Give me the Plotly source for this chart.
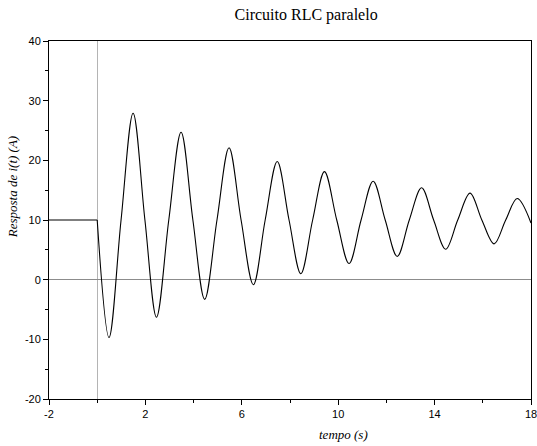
import plotly.graph_objects as go

# Data
t_before = [-2, 0]
i_before = [10, 10]

t_after = [0, 0.49, 0.99, 1.49, 1.98, 2.46, 2.97, 3.48, 3.97, 4.46, 4.97, 5.47,
           5.97, 6.48, 6.97, 7.47, 7.96, 8.45, 8.94, 9.43, 9.94, 10.45, 10.95,
           11.45, 11.95, 12.45, 12.95, 13.46, 13.96, 14.46, 14.96, 15.47, 15.96,
           16.47, 16.95, 17.43, 18]
i_after = [10, -9.7, 10, 27.9, 10, -6.3, 10, 24.7, 10, -3.3, 10, 22.1,
           10, -0.85, 10, 19.8, 10, 1.0, 10, 18.1, 10, 2.7, 10,
           16.5, 10, 3.9, 10, 15.4, 10, 5.1, 10, 14.5, 10,
           6.0, 10, 13.6, 9.5]

x_ticks = [-2, 2, 6, 10, 14, 18]
y_ticks = [-20, -10, 0, 10, 20, 30, 40]

fig = go.Figure()
fig.add_trace(go.Scatter(x=t_before, y=i_before, mode="lines",
                         line=dict(color="black", width=1.1), showlegend=False))
fig.add_trace(go.Scatter(x=t_after, y=i_after, mode="lines",
                         line=dict(color="black", width=1.1, shape="spline", smoothing=1.0),
                         showlegend=False))

tickfont = dict(family="Liberation Sans, Arial", size=11, color="black")
fig.update_layout(
    width=537, height=446,
    margin=dict(l=49, r=0, t=41, b=47),
    paper_bgcolor="white", plot_bgcolor="white",
    title=dict(text="Circuito RLC paralelo", x=0.57, xanchor="center",
               y=0.968, yanchor="middle",
               font=dict(family="Liberation Serif, Times New Roman", size=16, color="black")),
    xaxis=dict(range=[-2, 18], tickvals=x_ticks, ticktext=[str(v) for v in x_ticks],
               showgrid=False, zeroline=True, zerolinecolor="#b4b4b4", zerolinewidth=1,
               showline=True, linecolor="black", linewidth=1, mirror=True,
               ticks="outside", ticklen=5, tickcolor="black", tickfont=tickfont,
               ticklabeloverflow="allow",
               minor=dict(dtick=2, tick0=0, ticks="outside", ticklen=3, tickcolor="black", showgrid=False)),
    yaxis=dict(range=[-20, 40], tickvals=y_ticks, ticktext=[str(v) for v in y_ticks],
               showgrid=False, zeroline=True, zerolinecolor="#8c8c8c", zerolinewidth=1,
               showline=True, linecolor="black", linewidth=1, mirror=True,
               ticks="outside", ticklen=5, tickcolor="black", tickfont=tickfont,
               minor=dict(dtick=5, tick0=0, ticks="outside", ticklen=3, tickcolor="black", showgrid=False)),
    annotations=[
        dict(text="<i>tempo (s)</i>", xref="paper", yref="paper", x=0.61, y=-0.1,
             xanchor="center", yanchor="middle", showarrow=False,
             font=dict(family="Liberation Serif, Times New Roman", size=13, color="black")),
        dict(text="<i>Resposta de i(t) (A)</i>", xref="paper", yref="paper", x=-0.075, y=0.591,
             xanchor="center", yanchor="middle", showarrow=False, textangle=-90,
             font=dict(family="Liberation Serif, Times New Roman", size=13, color="black")),
    ],
)

fig.write_html("out.html", config={"displayModeBar": False},
               post_script="document.body.style.margin='0';document.body.style.overflow='hidden';")
